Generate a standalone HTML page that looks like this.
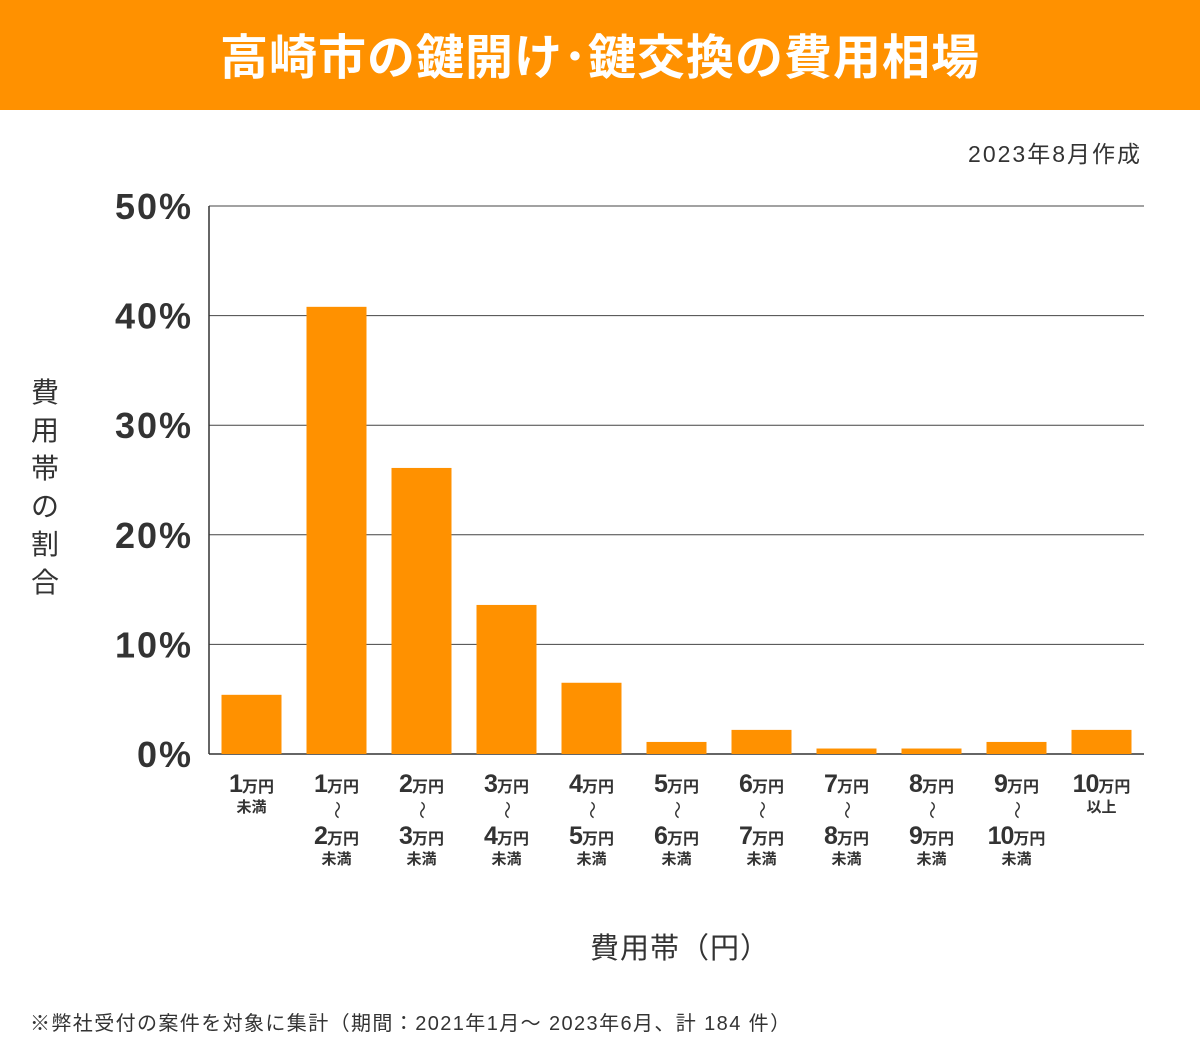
<!DOCTYPE html>
<html><head><meta charset="utf-8"><style>
body{margin:0;width:1200px;height:1041px;background:#fff;font-family:"Liberation Sans","Noto Sans CJK JP",sans-serif;color:#333;position:relative;overflow:hidden}
.hdr{position:absolute;left:0;top:0;width:1200px;height:110px;background:#FF9100;color:#fff;font-weight:bold;font-size:48px;text-align:center;line-height:118px;letter-spacing:1px}
</style></head><body>
<div class="hdr">高崎市の鍵開け･鍵交換の費用相場</div>
<svg id="c" width="1200" height="1041" style="position:absolute;left:0;top:0">
<text x="1142" y="162" text-anchor="end" font-size="23" letter-spacing="2" fill="#333">2023年8月作成</text>
<text x="680" y="958" text-anchor="middle" font-size="29" letter-spacing="1" fill="#333">費用帯（円）</text>
<text x="30" y="1030" font-size="20" letter-spacing="1.4" fill="#333">※弊社受付の案件を対象に集計（期間：2021年1月～ 2023年6月、計 184 件）</text>
<g font-size="28" fill="#333" text-anchor="middle">
<text x="45" y="402">費</text><text x="45" y="440">用</text><text x="45" y="478">帯</text><text x="45" y="516">の</text><text x="45" y="554">割</text><text x="45" y="592">合</text>
</g>
<g id="plot"></g>
</svg>
<script>
const categories=[["1","","","未満"],["1","〜","2","未満"],["2","〜","3","未満"],["3","〜","4","未満"],["4","〜","5","未満"],["5","〜","6","未満"],["6","〜","7","未満"],["7","〜","8","未満"],["8","〜","9","未満"],["9","〜","10","未満"],["10","","","以上"]];
const values=[5.4,40.8,26.1,13.6,6.5,1.1,2.2,0.5,0.5,1.1,2.2];
const tickValues=[0,10,20,30,40,50];
const tickLabels=["0%","10%","20%","30%","40%","50%"];
const NS="http://www.w3.org/2000/svg";
const L=209,R=1144,T=206,B=754,yMax=50;
const y=v=>B-(v/yMax)*(B-T);
const band=(R-L)/categories.length;
const x=i=>L+band*i+band/2;
const g=document.getElementById('plot');
function mk(t,a){const e=document.createElementNS(NS,t);for(const k in a)e.setAttribute(k,a[k]);g.appendChild(e);return e;}
tickValues.forEach((v,i)=>{
 const ln=mk('line',{x1:L,x2:R,y1:y(v),y2:y(v),stroke:v===0?'#333':'#444','stroke-width':v===0?1.5:1});
 
 
 const t=mk('text',{x:193,y:y(v)+13,'text-anchor':'end','font-size':36,'font-weight':'bold',fill:'#333','letter-spacing':2});
 t.textContent=tickLabels[i];
 
 
});
const ax=mk('line',{x1:L,x2:L,y1:T,y2:B,stroke:'#333','stroke-width':1.5});


values.forEach((v,i)=>{
 const r=mk('rect',{x:x(i)-30,y:y(v),width:60,height:B-y(v),fill:'#FF9100'});
 
 
 const c=categories[i];
 const lab=document.createElementNS(NS,'g');
 
 
 g.appendChild(lab);
 function num(n,yy){const t=document.createElementNS(NS,'text');t.setAttribute('x',x(i));t.setAttribute('y',yy);t.setAttribute('text-anchor','middle');t.setAttribute('font-weight','bold');t.setAttribute('fill','#333');
  t.innerHTML='<tspan font-size="25" letter-spacing="-1">'+n+'</tspan><tspan font-size="16">万円</tspan>';lab.appendChild(t);}
 function sm(s,yy,fs){const t=document.createElementNS(NS,'text');t.setAttribute('x',x(i));t.setAttribute('y',yy);t.setAttribute('text-anchor','middle');t.setAttribute('font-weight','bold');t.setAttribute('font-size',fs);t.setAttribute('fill','#333');t.textContent=s;lab.appendChild(t);}
 function wave(yy){const t=document.createElementNS(NS,'text');t.setAttribute('x',0);t.setAttribute('y',0);t.setAttribute('text-anchor','middle');t.setAttribute('font-size',18);t.setAttribute('fill','#333');t.setAttribute('dominant-baseline','central');t.setAttribute('transform','translate('+x(i)+','+yy+') rotate(90)');t.textContent='〜';lab.appendChild(t);}
 num(c[0],792);
 if(c[1]){wave(810);num(c[2],844);sm(c[3],864,15);}
 else sm(c[3],812,15);
});
</script>
</body></html>
